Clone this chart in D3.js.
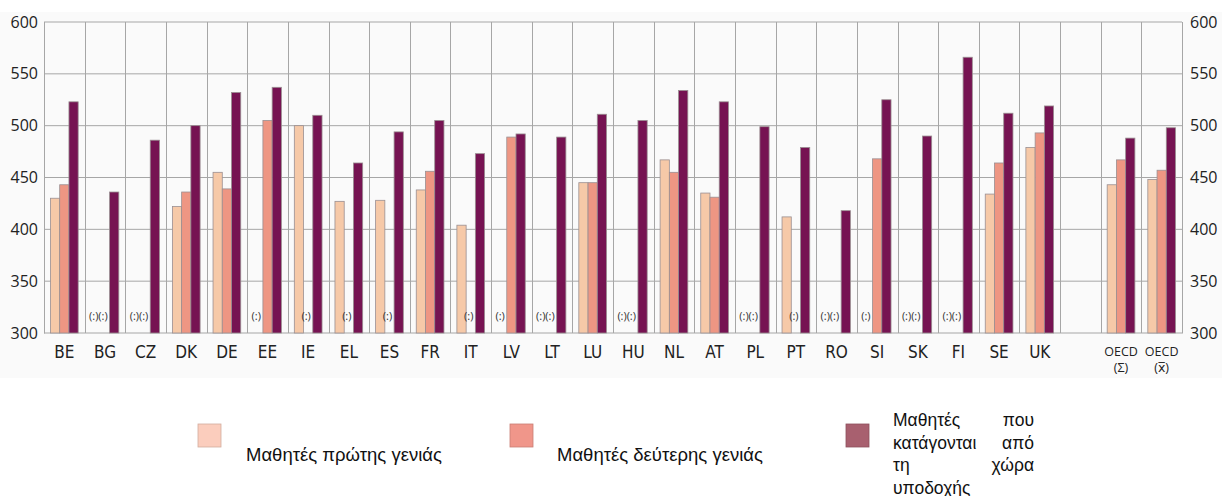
<!DOCTYPE html>
<html>
<head>
<meta charset="utf-8">
<script src="https://cdn.jsdelivr.net/npm/d3@7"></script>
<style>
  html, body { margin: 0; padding: 0; background: #fff; }
  svg { display: block; }
</style>
</head>
<body>
<div id="chart"></div>
<script>
// slots along the x axis ("" is the empty gap before the OECD groups)
const categories = ['BE', 'BG', 'CZ', 'DK', 'DE', 'EE', 'IE', 'EL', 'ES', 'FR', 'IT', 'LV', 'LT', 'LU', 'HU',
    'NL', 'AT', 'PL', 'PT', 'RO', 'SI', 'SK', 'FI', 'SE', 'UK', '', 'OECD_SUM', 'OECD_AVG'];

// null = (:) not available
const firstGen = [430, null, null, 422, 455, null, 500, 427, 428, 438, 404, null, null, 445, null,
    467, 435, null, 412, null, null, null, null, 434, 479, null, 443, 448];
const secondGen = [443, null, null, 436, 439, 505, null, null, null, 456, null, 489, null, 445, null,
    455, 431, null, null, null, 468, null, null, 464, 493, null, 467, 457];
const nativeStudents = [523, 436, 486, 500, 532, 537, 510, 464, 494, 505, 473, 492, 489, 511, 505,
    534, 523, 499, 479, 418, 525, 490, 566, 512, 519, null, 488, 498];

const seriesNames = ['Μαθητές πρώτης γενιάς', 'Μαθητές δεύτερης γενιάς', 'Μαθητές που κατάγονται από τη χώρα υποδοχής'];
const yTicks = [300, 350, 400, 450, 500, 550, 600];

const W = 1222, H = 496;
const barColors = ['#f6c9a8', '#ee9683', '#761352'];
const legendColors = ['#fbcdbd', '#f0968a', '#a8606f'];
const axisFont = '"Open Sans", "DejaVu Sans", sans-serif';
const catFont = '"DejaVu Sans Condensed", "Open Sans", sans-serif';
const legFont = '"Liberation Sans", Arial, sans-serif';

const svg = d3.select('#chart').append('svg').attr('width', W).attr('height', H);

// light chart background
svg.append('rect').attr('x', 0).attr('y', 12).attr('width', W).attr('height', 366).attr('fill', '#fafafa');

const x = d3.scaleBand().domain(categories.map((d, i) => i)).range([44, 1182]).padding(0);
const y = d3.scaleLinear().domain([300, 600]).range([333, 22]);
const x1 = d3.scaleBand().domain([0, 1, 2]).range([0, x.bandwidth()]).paddingInner(0).paddingOuter(0.7);

const series = [firstGen, secondGen, nativeStudents];

// Gridlines
const grid = svg.append('g');
grid.selectAll('line.h').data(yTicks).join('line')
    .attr('x1', 44).attr('x2', 1182)
    .attr('y1', (d) => y(d)).attr('y2', (d) => y(d))
    .attr('stroke', '#a6a6a6').attr('stroke-width', 1);
grid.selectAll('line.v').data(d3.range(categories.length + 1)).join('line')
    .attr('x1', (i) => Math.round(44 + i * x.step()) + 0.5).attr('x2', (i) => Math.round(44 + i * x.step()) + 0.5)
    .attr('y1', y(600)).attr('y2', y(300))
    .attr('stroke', '#a6a6a6').attr('stroke-width', 1);

// Bars
const bars = [];
categories.forEach((c, i) => {
    series.forEach((s, k) => {
        bars.push({ i, k, v: s[i], cat: c });
    });
});

svg.append('g').selectAll('rect').data(bars.filter((d) => d.v != null)).join('rect')
    .attr('x', (d) => x(d.i) + x1(d.k))
    .attr('width', x1.bandwidth())
    .attr('y', (d) => y(d.v))
    .attr('height', (d) => y(300) - y(d.v))
    .attr('fill', (d) => barColors[d.k])
    .attr('stroke', '#9a8f92').attr('stroke-width', 0.8);

// (:) markers for missing data
svg.append('g').selectAll('text').data(bars.filter((d) => d.v == null && d.cat !== '')).join('text')
    .attr('x', (d) => x(d.i) + x1(d.k) + x1.bandwidth() / 2 - 2)
    .attr('y', 320)
    .attr('text-anchor', 'middle')
    .attr('font-family', axisFont).attr('font-size', 11).attr('fill', '#333')
    .text('(:)');

// Axes labels
const leftAxis = svg.append('g').attr('transform', 'translate(44,0)')
    .call(d3.axisLeft(y).tickValues(yTicks).tickSize(0).tickPadding(6));
const rightAxis = svg.append('g').attr('transform', 'translate(1182,0)')
    .call(d3.axisRight(y).tickValues(yTicks).tickSize(0).tickPadding(8));
[leftAxis, rightAxis].forEach((a) => {
    a.select('.domain').attr('stroke', '#a6a6a6');
    a.selectAll('text').attr('font-family', axisFont).attr('font-size', 16).attr('fill', '#222');
});

// Category labels
const catG = svg.append('g');
categories.forEach((c, i) => {
    const cx = x(i) + x.bandwidth() / 2;
    if (c === '') return;
    if (c.startsWith('OECD')) {
        const t = catG.append('text').attr('x', cx).attr('text-anchor', 'middle')
            .attr('font-family', axisFont).attr('font-size', 12.5).attr('fill', '#222');
        t.append('tspan').attr('x', cx).attr('y', 356).text('OECD');
        t.append('tspan').attr('x', cx).attr('y', 372)
            .text(c === 'OECD_SUM' ? '(Σ)' : '(x\u0305)');
    } else {
        catG.append('text').attr('x', cx).attr('y', 358).attr('text-anchor', 'middle')
            .attr('font-family', catFont).attr('font-size', 17).attr('fill', '#222')
            .text(c);
    }
});

// Legend
const legend = svg.append('g');
const legX = [198, 510, 846];
legX.forEach((lx, k) => {
    legend.append('rect').attr('x', lx).attr('y', 424).attr('width', 23).attr('height', 23)
        .attr('fill', legendColors[k]).attr('stroke', d3.color(legendColors[k]).darker(0.5)).attr('stroke-width', 0.8);
});
legend.append('text').attr('x', 246).attr('y', 461)
    .attr('font-family', legFont).attr('font-size', 18.5).attr('fill', '#111').text(seriesNames[0]);
legend.append('text').attr('x', 557).attr('y', 461)
    .attr('font-family', legFont).attr('font-size', 18.5).attr('fill', '#111').text(seriesNames[1]);

// third entry: justified text block
const thirdLines = [['Μαθητές', 'που'], ['κατάγονται', 'από'], ['τη', 'χώρα'], ['υποδοχής']];
thirdLines.forEach((words, j) => {
    const ly = 426 + j * 22.5;
    legend.append('text').attr('x', 893).attr('y', ly)
        .attr('font-family', legFont).attr('font-size', 17.5).attr('fill', '#111').text(words[0]);
    if (words[1]) {
        legend.append('text').attr('x', 1034).attr('y', ly).attr('text-anchor', 'end')
            .attr('font-family', legFont).attr('font-size', 17.5).attr('fill', '#111').text(words[1]);
    }
});
</script>
</body>
</html>
